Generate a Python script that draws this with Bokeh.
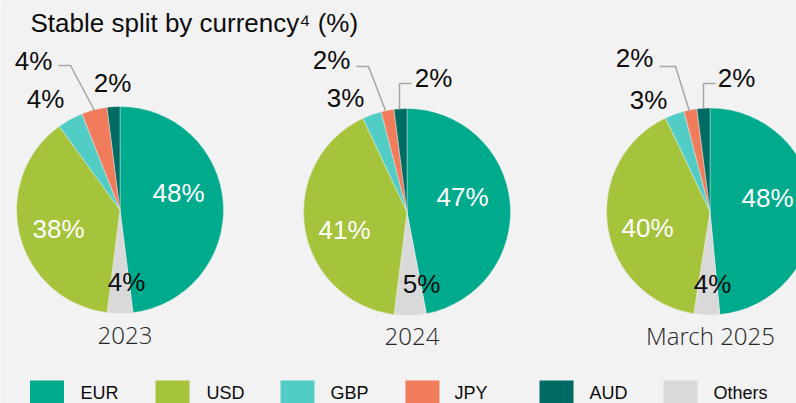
import numpy as np
from bokeh.plotting import figure
from bokeh.models import Range1d, ColumnDataSource
from bokeh.core.properties import value
from bokeh.embed import file_html
from bokeh.resources import INLINE

# ---------------- data ----------------
slices = ["EUR", "Others", "USD", "GBP", "JPY", "AUD"]          # clockwise from 12 o'clock
years = ["2023", "2024", "March 2025"]
share_2023 = [48, 4, 38, 4, 4, 2]
share_2024 = [47, 5, 41, 3, 2, 2]
share_2025 = [48, 4, 40, 3, 2, 2]
legend_items = ["EUR", "USD", "GBP", "JPY", "AUD", "Others"]
title_text = "Stable split by currency\u2074 (%)"

# ---------------- styles / layout ----------------
BG = "#f2f2f2"
colors = {"EUR": "#00aa8d", "USD": "#a5c33b", "GBP": "#52cdc6",
          "JPY": "#f07c5c", "AUD": "#006b62", "Others": "#d9d9d9"}
label_color = {"EUR": "white", "USD": "white", "Others": "#0d0d0d",
               "GBP": "#0d0d0d", "JPY": "#0d0d0d", "AUD": "#0d0d0d"}
W, H = 796, 403  # data y = H - page y
centers = [(119.5, 209.5), (406.5, 211.5), (709.5, 211.0)]
R = 103.5
# label offsets (dx, dy-down) per slice order
label_offsets = [
    [(58.5, -17.5), (6.5, 71.5), (-61.5, 18.5), (-74.5, -111.5), (-86.5, -149.5), (-7.5, -127.5)],
    [(55.5, -15.5), (14.5, 71.5), (-62.5, 17.5), (-61.5, -114.5), (-75.5, -152.5), (26.5, -134.5)],
    [(57.5, -14.0), (2.5, 72.0), (-62.5, 16.0), (-61.5, -112.0), (-75.5, -154.0), (26.5, -134.0)],
]
leaders = [
    [[(58, 65), (70, 65), (94, 110)]],
    [[(356, 66), (368, 66), (385, 110)], [(411, 83), (399, 83), (399, 109)]],
    [[(659, 66), (675, 66), (689, 111)], [(715, 83), (703, 83), (703, 108)]],
]
year_pos = [(124.5, 335), (411.5, 335.5), (710, 335)]
legend_sq_x = [29.5, 155, 280, 405, 539, 663]
legend_tx_x = [80, 206, 330, 454, 589, 713]

p = figure(width=W, height=H, x_range=Range1d(0, W), y_range=Range1d(0, H),
           output_backend="svg", toolbar_location=None, min_border=0)
p.axis.visible = False
p.grid.visible = False
p.outline_line_color = None
p.background_fill_color = BG
p.border_fill_color = BG

for (cx, cy), shares, offs, yr, ypos, lds in zip(
        centers, [share_2023, share_2024, share_2025], label_offsets, years, year_pos, leaders):
    vals = np.array(shares, dtype=float)
    frac = vals / vals.sum()
    cum = np.concatenate([[0], np.cumsum(frac)])
    start = np.pi / 2 - 2 * np.pi * cum[:-1]
    end = np.pi / 2 - 2 * np.pi * cum[1:]
    src = ColumnDataSource(dict(start=start, end=end,
                                color=[colors[s] for s in slices]))
    p.wedge(x=cx, y=H - cy, radius=R, start_angle="start", end_angle="end",
            direction="clock", fill_color="color", line_color="#f2f2f2",
            line_width=0.4, source=src)
    lsrc = ColumnDataSource(dict(
        x=[cx + o[0] for o in offs], y=[H - (cy + o[1]) for o in offs],
        text=[f"{v}%" for v in shares], color=[label_color[s] for s in slices]))
    p.text(x="x", y="y", text="text", text_color="color", source=lsrc,
           text_align="center", text_baseline="middle",
           text_font=value("Liberation Sans"), text_font_size="26px")
    for ld in lds:
        p.line(x=[q[0] for q in ld], y=[H - q[1] for q in ld],
               line_color="#a6a6a6", line_width=1.5)
    p.text(x=[ypos[0]], y=[H - ypos[1]], text=[yr], text_align="center",
           text_baseline="middle", text_font=value("Open Sans Light, Open Sans"),
           text_font_size="24px", text_color="#262626")

# title
p.text(x=[30], y=[H - 22.5], text=[title_text], text_align="left",
       text_baseline="middle", text_font=value("Liberation Sans"),
       text_font_size="26px", text_color="#0d0d0d")

# legend
lg = ColumnDataSource(dict(
    x=[x + 17 for x in legend_sq_x], tx=legend_tx_x, y=[H - 397] * 6,
    ty=[H - 392.5] * 6, text=legend_items, color=[colors[s] for s in legend_items]))
p.rect(x="x", y="y", width=34, height=34, fill_color="color", line_color=None, source=lg)
p.text(x="tx", y="ty", text="text", source=lg, text_align="left",
       text_baseline="middle", text_font=value("Liberation Sans"),
       text_font_size="18px", text_color="#0d0d0d")

html = file_html(p, INLINE)
html = html.replace("<body>", '<body style="background-color:#f2f2f2;">', 1)
open("out.html", "w").write(html)
